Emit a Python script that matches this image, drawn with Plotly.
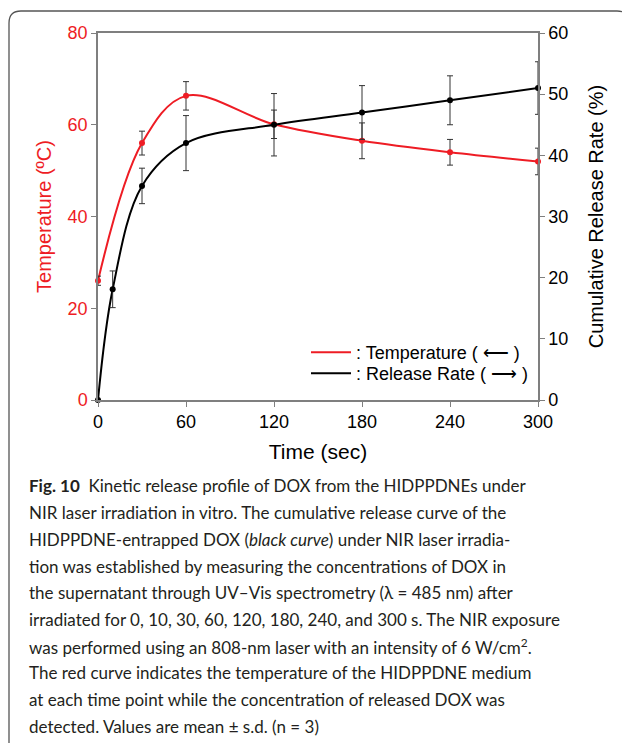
import plotly.graph_objects as go

# ---------------- data ----------------
time_temp = [0, 30, 60, 120, 180, 240, 300]
temperature = [26.0, 56.0, 66.3, 60.1, 56.5, 54.0, 52.0]
temperature_sd = [1.0, 2.6, 3.1, 3.1, 3.9, 2.8, 2.9]

time_rel = [0, 10, 30, 60, 120, 180, 240, 300]
release = [0.0, 18.1, 35.0, 42.0, 45.0, 47.0, 49.0, 51.0]
release_sd = [0.0, 3.0, 2.9, 4.5, 5.1, 4.4, 4.0, 4.3]

x_ticks = [0, 60, 120, 180, 240, 300]
left_ticks = [0, 20, 40, 60, 80]
right_ticks = [0, 10, 20, 30, 40, 50, 60]

caption_lines = [
    "<b>Fig. 10</b>  Kinetic release profile of DOX from the HIDPPDNEs under",
    "NIR laser irradiation in vitro. The cumulative release curve of the",
    "HIDPPDNE-entrapped DOX (<i>black curve</i>) under NIR laser irradia-",
    "tion was established by measuring the concentrations of DOX in",
    "the supernatant through UV–Vis spectrometry (λ = 485 nm) after",
    "irradiated for 0, 10, 30, 60, 120, 180, 240, and 300 s. The NIR exposure",
    "was performed using an 808-nm laser with an intensity of 6 W/cm<sup>2</sup>.",
    "The red curve indicates the temperature of the HIDPPDNE medium",
    "at each time point while the concentration of released DOX was",
    "detected. Values are mean ± s.d. (n = 3)",
]

# ---------------- geometry ----------------
# page has an 8px body margin, so the figure is drawn 8px in from the window edge
W, H = 622, 735
ML, MT = 90, 25
PW, PH = 440, 367
MR, MB = W - ML - PW, H - MT - PH
PLOT_LEFT_PAGE, PLOT_BOTTOM_PAGE = 98, 400


def px(x):
    return (x - PLOT_LEFT_PAGE) / PW


def py(y):
    return (PLOT_BOTTOM_PAGE - y) / PH


RED = "#ee1c24"
AXIS = "#7f7f7f"
FONT = "Liberation Sans, Arial, sans-serif"

fig = go.Figure()

# smooth curves (legend entries)
fig.add_trace(go.Scatter(
    x=time_temp, y=temperature, mode="lines", line=dict(color=RED, width=2, shape="spline"),
    name=": Temperature ( ⟵ )", yaxis="y", showlegend=True, legend="legend"))
fig.add_trace(go.Scatter(
    x=time_rel, y=release, mode="lines", line=dict(color="black", width=2, shape="spline"),
    name=": Release Rate ( ⟶ )", yaxis="y2", showlegend=True, legend="legend2"))

# markers + error bars
fig.add_trace(go.Scatter(
    x=time_temp, y=temperature, mode="markers", marker=dict(color=RED, size=6),
    error_y=dict(type="data", array=temperature_sd, visible=True, color="#333333", thickness=1, width=3),
    yaxis="y", showlegend=False, cliponaxis=False))
fig.add_trace(go.Scatter(
    x=time_rel, y=release, mode="markers", marker=dict(color="black", size=6),
    error_y=dict(type="data", array=release_sd, visible=True, color="#333333", thickness=1, width=3),
    yaxis="y2", showlegend=False, cliponaxis=False))

# caption
y0, dy = 486, 26.7
for i, line in enumerate(caption_lines):
    fig.add_annotation(
        text=line, xref="paper", yref="paper", x=px(27), y=py(y0 + i * dy),
        xanchor="left", yanchor="middle", showarrow=False, align="left",
        font=dict(family="Lato, Noto Sans, sans-serif", size=17, color="#231f20"))

# rounded frame
x1, x2, yt, yb, r = 9, 629, 11, 780, 12
path = (f"M {px(x1)},{py(yb)} L {px(x1)},{py(yt + r)} Q {px(x1)},{py(yt)} {px(x1 + r)},{py(yt)} "
        f"L {px(x2 - r)},{py(yt)} Q {px(x2)},{py(yt)} {px(x2)},{py(yt + r)} L {px(x2)},{py(yb)}")
fig.add_shape(type="path", path=path, xref="paper", yref="paper",
              line=dict(color="#555555", width=1.3), layer="above")

legend_common = dict(xanchor="left", yanchor="top", bgcolor="rgba(0,0,0,0)",
                     font=dict(family=FONT, size=18, color="black"), itemwidth=40)

fig.update_layout(
    width=W, height=H,
    margin=dict(l=ML, r=MR, t=MT, b=MB, autoexpand=False),
    paper_bgcolor="white", plot_bgcolor="white",
    font=dict(family=FONT, size=18, color="black"),
    xaxis=dict(
        range=[0, 300], tickvals=x_ticks, ticks="outside", ticklen=5, tickcolor=AXIS,
        showline=True, linecolor=AXIS, linewidth=1.5, mirror=True, showgrid=False, zeroline=False,
        tickfont=dict(size=18, color="black"),
        title=dict(text="Time (sec)", font=dict(size=21, color="black"), standoff=13)),
    yaxis=dict(
        range=[0, 80], tickvals=left_ticks, ticks="outside", ticklen=5, tickcolor=AXIS,
        showline=True, linecolor=AXIS, linewidth=1.5, showgrid=False, zeroline=False,
        tickfont=dict(size=18, color=RED),
        title=dict(text="Temperature (ºC)", font=dict(size=20, color=RED), standoff=11)),
    yaxis2=dict(
        range=[0, 60], tickvals=right_ticks, ticks="outside", ticklen=5, tickcolor=AXIS,
        overlaying="y", side="right", anchor="x",
        showline=True, linecolor=AXIS, linewidth=1.5, showgrid=False, zeroline=False,
        tickfont=dict(size=18, color="black"),
        title=dict(text="Cumulative Release Rate (%)", font=dict(size=20, color="black"), standoff=22)),
    legend=dict(x=px(306), y=py(334), **legend_common),
    legend2=dict(x=px(306), y=py(355), **legend_common),
    showlegend=True,
)

fig.write_html("out.html")
